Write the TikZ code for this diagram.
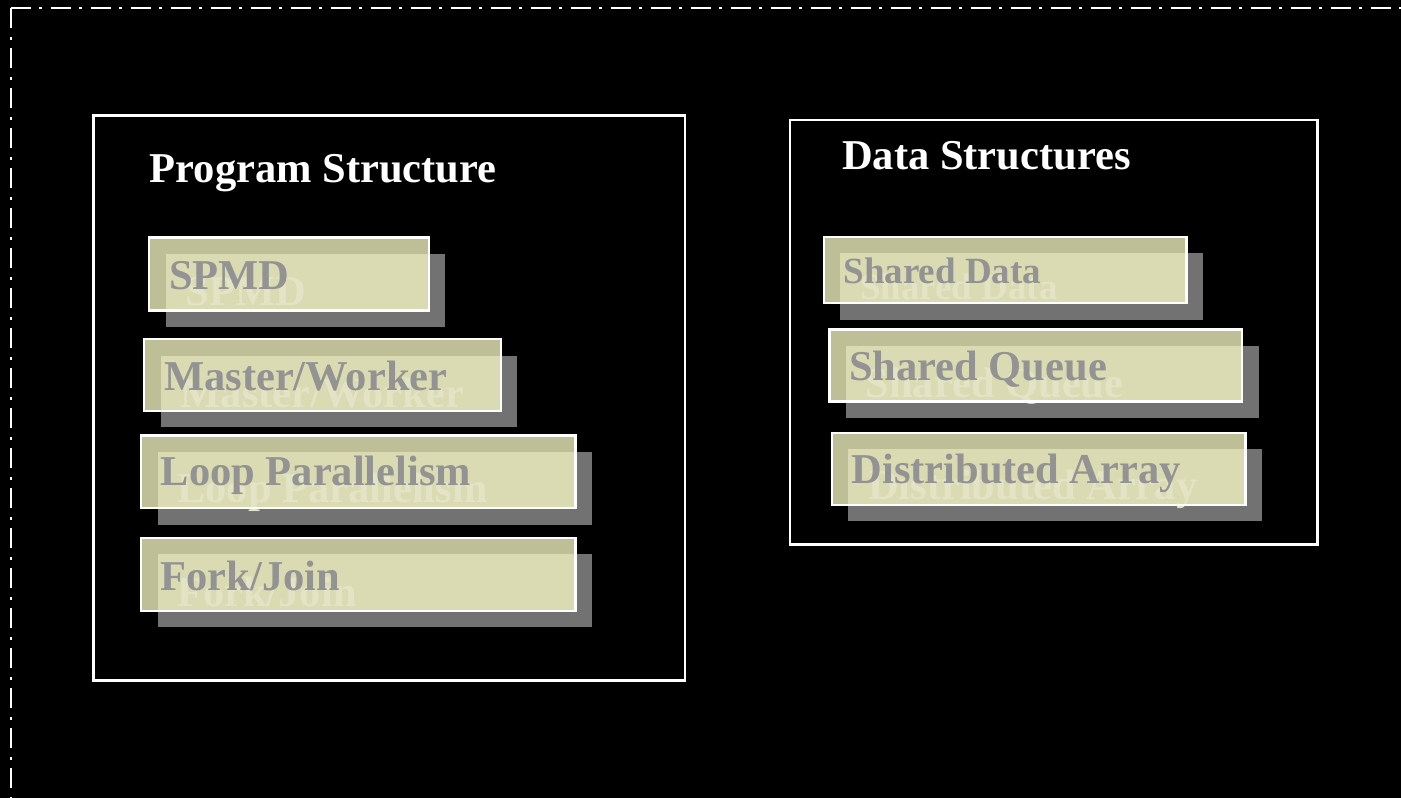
\documentclass[tikz,border=0pt]{standalone}
\usepackage{fontspec}
\setmainfont{Liberation Serif}
\definecolor{khakidark}{RGB}{190,190,151}
\definecolor{khakilight}{RGB}{218,219,178}
\definecolor{shadowgray}{RGB}{114,114,114}
\definecolor{textgray}{RGB}{147,147,147}
\definecolor{ghost}{RGB}{227,228,198}
\tikzset{
  frameline/.style={draw=white, line width=2.5pt},
  borderline/.style={draw=white, line width=2pt, dash pattern=on 20pt off 8.5pt on 3pt off 8.5pt},
  itemtext/.style={anchor=base west, inner sep=0pt, text=textgray},
  ghosttext/.style={anchor=base west, inner sep=0pt, text=ghost},
  titletext/.style={anchor=base west, inner sep=0pt, text=white, font=\fontsize{42.5}{50}\selectfont\bfseries}
}
% #1 name, #2 x1, #3 y1, #4 x2, #5 y2, #6 text x, #7 baseline, #8 size, #9 text
\newcommand\itembox[9]{%
  \fill[shadowgray] (#2+16.5,#3+16.5) rectangle (#4+16.5,#5+16.5);
  \fill[khakidark] (#2,#3) rectangle (#4,#5);
  \fill[khakilight] (#2+16.5,#3+16.5) rectangle (#4,#5);
  \node[ghosttext, font=\fontsize{#8}{#8}\selectfont\bfseries] (#1g) at (#6+16.5,#7+16.5) {#9};
  \draw[white, line width=2.4pt] (#2,#3) rectangle (#4,#5);
  \node[itemtext, font=\fontsize{#8}{#8}\selectfont\bfseries] (#1) at (#6,#7) {#9};
}
\begin{document}
\begin{tikzpicture}[x=1pt,y=-1pt]
\useasboundingbox (0,0) rectangle (1401,798);
\fill[black] (0,0) rectangle (1401,798);
% dash-dot border
\coordinate (corner) at (10.5,8.3);
\coordinate (bottomend) at (10.5,800);
\coordinate (rightend) at (1405,8.3);
\draw[borderline] (corner) -- (bottomend);
\draw[borderline] (corner) -- (rightend);
% group frames
\draw[frameline] (93.3,115.3) rectangle (685,680.5);
\draw[frameline] (790,120) rectangle (1317.3,544.3);
% titles
\node[titletext] (ptitle) at (149.5,182.3) {Program Structure};
\node[titletext] (dtitle) at (842,169) {Data Structures};
% items
\itembox{spmd}{149}{237.5}{428.8}{310.5}{169}{289.3}{42.5}{SPMD}
\itembox{master}{144.2}{339.2}{500.8}{410.8}{164}{390.7}{42.5}{Master/Worker}
\itembox{loop}{141.2}{435.5}{575.5}{508.1}{160.5}{485.7}{42.5}{Loop Parallelism}
\itembox{fork}{141.2}{537.9}{575.5}{610.8}{160.5}{590}{42.5}{Fork/Join}
\itembox{sdata}{823.9}{236.9}{1186.5}{303.1}{843.3}{283.3}{37}{Shared Data}
\itembox{squeue}{829.5}{329.5}{1242.1}{401.5}{849}{380.7}{42.5}{Shared Queue}
\itembox{darray}{831.9}{432.9}{1245.5}{504.8}{851.3}{483.3}{42.5}{Distributed Array}
\end{tikzpicture}
\end{document}
